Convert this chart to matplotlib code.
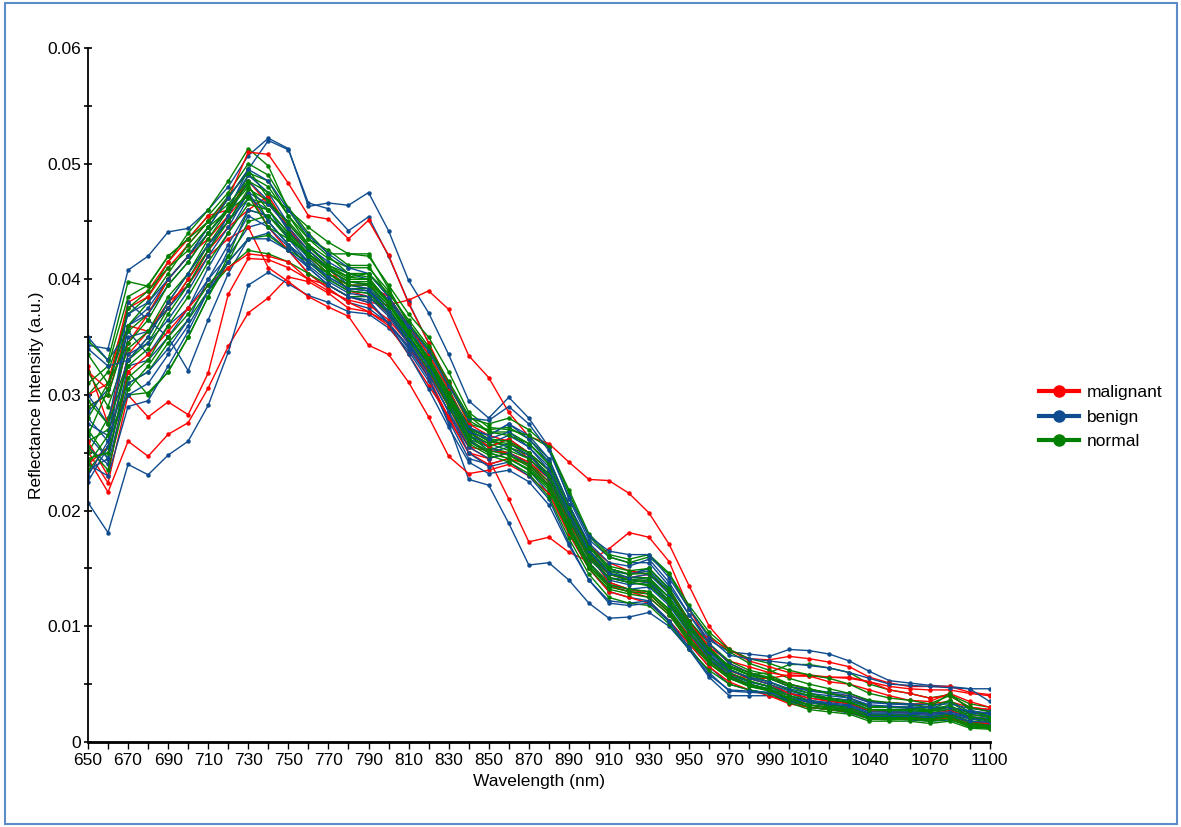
import numpy as np
import matplotlib.pyplot as plt
from matplotlib.lines import Line2D
from matplotlib.patches import Rectangle

plt.rcParams['font.family'] = ['Liberation Sans', 'DejaVu Sans']

# wavelength grid, 10 nm steps
wavelength = np.arange(650, 1101, 10)
tick_labels = {650: '650', 670: '670', 690: '690', 710: '710', 730: '730', 750: '750',
               770: '770', 790: '790', 810: '810', 830: '830', 850: '850', 870: '870',
               890: '890', 910: '910', 930: '930', 950: '950', 970: '970', 990: '990',
               1010: '1010', 1040: '1040', 1070: '1070', 1100: '1100'}

# reflectance spectra, in units of 1e-2
malignant = [
    [2.45, 2.16, 2.60, 2.47, 2.66, 2.76, 3.06, 3.42, 3.71, 3.84, 4.02, 3.98, 3.88, 3.75, 3.72, 3.62,
     3.42, 3.15, 2.80, 2.50, 2.45, 2.10, 1.73, 1.77, 1.64, 1.56, 1.67, 1.81, 1.77, 1.56, 1.15, 0.85,
     0.68, 0.60, 0.55, 0.50, 0.45, 0.42, 0.40, 0.35, 0.34, 0.33, 0.33, 0.35, 0.30, 0.28],
    [2.51, 2.24, 3.00, 2.81, 2.94, 2.83, 3.19, 3.87, 4.18, 4.17, 4.10, 4.00, 3.95, 3.85, 3.80, 3.78,
     3.82, 3.90, 3.74, 3.34, 3.15, 2.85, 2.64, 2.58, 2.42, 2.27, 2.26, 2.15, 1.98, 1.71, 1.35, 1.00,
     0.80, 0.70, 0.65, 0.60, 0.58, 0.56, 0.55, 0.52, 0.48, 0.46, 0.45, 0.45, 0.42, 0.40],
    [3.20, 3.05, 3.75, 3.85, 4.10, 4.30, 4.50, 4.70, 5.10, 5.08, 4.83, 4.55, 4.52, 4.35, 4.51, 4.21,
     3.79, 3.45, 3.10, 2.75, 2.65, 2.60, 2.45, 2.30, 1.95, 1.62, 1.45, 1.40, 1.38, 1.22, 0.98, 0.90,
     0.80, 0.72, 0.71, 0.74, 0.72, 0.69, 0.65, 0.56, 0.51, 0.48, 0.48, 0.48, 0.43, 0.41],
    [3.00, 3.10, 3.80, 3.90, 4.15, 4.35, 4.55, 4.60, 4.85, 4.65, 4.45, 4.25, 4.10, 3.90, 3.85, 3.70,
     3.45, 3.15, 2.80, 2.50, 2.40, 2.45, 2.40, 2.25, 1.90, 1.60, 1.45, 1.42, 1.45, 1.30, 1.05, 0.82,
     0.70, 0.65, 0.60, 0.57, 0.57, 0.56, 0.56, 0.52, 0.45, 0.42, 0.38, 0.40, 0.30, 0.28],
    [2.90, 3.00, 3.60, 3.55, 3.80, 3.95, 4.20, 4.35, 4.45, 4.10, 3.98, 3.85, 3.76, 3.68, 3.43, 3.35,
     3.11, 2.81, 2.47, 2.32, 2.35, 2.40, 2.30, 2.15, 1.80, 1.50, 1.30, 1.25, 1.20, 1.05, 0.85, 0.65,
     0.52, 0.45, 0.40, 0.33, 0.30, 0.28, 0.26, 0.20, 0.20, 0.20, 0.19, 0.21, 0.15, 0.14],
    [3.25, 2.75, 3.45, 3.70, 4.00, 4.20, 4.35, 4.55, 4.75, 4.45, 4.25, 4.05, 3.92, 3.80, 3.72, 3.60,
     3.35, 3.08, 2.82, 2.55, 2.52, 2.50, 2.42, 2.28, 1.95, 1.62, 1.38, 1.32, 1.28, 1.12, 0.92, 0.70,
     0.58, 0.55, 0.55, 0.58, 0.57, 0.52, 0.50, 0.45, 0.40, 0.36, 0.35, 0.42, 0.35, 0.30],
    [2.40, 2.55, 3.35, 3.55, 3.75, 4.00, 4.25, 4.45, 4.60, 4.72, 4.45, 4.20, 4.05, 3.95, 3.95, 3.85,
     3.60, 3.35, 3.05, 2.70, 2.55, 2.62, 2.50, 2.35, 2.00, 1.70, 1.55, 1.48, 1.45, 1.30, 1.05, 0.80,
     0.62, 0.55, 0.50, 0.42, 0.38, 0.35, 0.33, 0.27, 0.26, 0.25, 0.24, 0.27, 0.22, 0.20],
    [2.60, 2.30, 3.20, 3.35, 3.55, 3.75, 3.95, 4.10, 4.22, 4.20, 4.15, 4.00, 3.90, 3.82, 3.78, 3.65,
     3.45, 3.20, 2.90, 2.55, 2.45, 2.50, 2.40, 2.22, 1.85, 1.55, 1.35, 1.30, 1.25, 1.10, 0.88, 0.68,
     0.55, 0.50, 0.45, 0.38, 0.32, 0.30, 0.28, 0.22, 0.22, 0.22, 0.20, 0.23, 0.17, 0.16],
]

benign = [
    [3.43, 3.40, 4.08, 4.20, 4.41, 4.44, 4.60, 4.80, 5.07, 5.22, 5.13, 4.63, 4.66, 4.64, 4.75, 4.42,
     3.99, 3.71, 3.35, 2.95, 2.80, 2.98, 2.80, 2.55, 2.10, 1.75, 1.60, 1.55, 1.55, 1.35, 1.10, 0.88,
     0.78, 0.76, 0.74, 0.80, 0.79, 0.76, 0.70, 0.61, 0.53, 0.51, 0.49, 0.48, 0.46, 0.46],
    [2.80, 2.60, 3.60, 3.75, 4.00, 4.20, 4.40, 4.60, 4.95, 5.20, 5.12, 4.66, 4.61, 4.42, 4.54, 4.20,
     3.80, 3.45, 3.05, 2.70, 2.65, 2.75, 2.65, 2.45, 2.05, 1.70, 1.50, 1.45, 1.50, 1.32, 1.05, 0.80,
     0.65, 0.58, 0.55, 0.48, 0.45, 0.43, 0.42, 0.35, 0.33, 0.32, 0.30, 0.30, 0.26, 0.25],
    [2.07, 1.81, 2.40, 2.31, 2.48, 2.60, 2.91, 3.37, 3.95, 4.06, 3.96, 3.86, 3.80, 3.72, 3.70, 3.58,
     3.38, 3.12, 2.78, 2.45, 2.40, 2.45, 2.35, 2.15, 1.80, 1.50, 1.30, 1.25, 1.22, 1.05, 0.85, 0.65,
     0.50, 0.45, 0.42, 0.35, 0.30, 0.28, 0.27, 0.22, 0.22, 0.22, 0.21, 0.22, 0.18, 0.16],
    [3.50, 3.30, 3.55, 3.35, 3.60, 3.75, 4.00, 4.20, 4.45, 4.50, 4.30, 4.10, 3.95, 3.85, 3.80, 3.62,
     3.40, 3.15, 2.75, 2.27, 2.22, 1.89, 1.53, 1.55, 1.40, 1.20, 1.07, 1.08, 1.12, 1.00, 0.80, 0.56,
     0.40, 0.40, 0.40, 0.35, 0.30, 0.28, 0.25, 0.20, 0.20, 0.19, 0.18, 0.19, 0.15, 0.15],
    [2.65, 2.45, 3.80, 3.65, 3.50, 3.21, 3.65, 4.05, 4.35, 4.40, 4.25, 4.05, 3.92, 3.80, 3.75, 3.62,
     3.42, 3.20, 2.92, 2.62, 2.55, 2.62, 2.50, 2.30, 1.95, 1.62, 1.42, 1.40, 1.42, 1.25, 1.00, 0.75,
     0.60, 0.52, 0.48, 0.42, 0.40, 0.38, 0.36, 0.30, 0.30, 0.29, 0.28, 0.30, 0.25, 0.24],
    [2.35, 2.45, 3.25, 3.30, 3.50, 3.75, 4.10, 4.40, 4.70, 4.60, 4.35, 4.15, 4.00, 3.90, 3.88, 3.70,
     3.45, 3.20, 2.90, 2.60, 2.50, 2.55, 2.45, 2.28, 1.92, 1.60, 1.42, 1.38, 1.40, 1.22, 0.98, 0.76,
     0.60, 0.52, 0.48, 0.42, 0.38, 0.36, 0.34, 0.28, 0.28, 0.28, 0.27, 0.28, 0.24, 0.22],
    [2.75, 2.65, 3.50, 3.55, 3.75, 3.95, 4.25, 4.55, 4.85, 4.68, 4.42, 4.22, 4.08, 3.98, 3.95, 3.75,
     3.50, 3.25, 2.95, 2.65, 2.58, 2.65, 2.55, 2.38, 2.00, 1.66, 1.48, 1.45, 1.48, 1.30, 1.02, 0.80,
     0.63, 0.55, 0.50, 0.44, 0.40, 0.38, 0.36, 0.30, 0.30, 0.30, 0.28, 0.30, 0.26, 0.24],
    [2.40, 2.30, 2.90, 2.95, 3.25, 3.55, 3.90, 4.25, 4.55, 4.45, 4.28, 4.12, 3.98, 3.88, 3.85, 3.68,
     3.44, 3.18, 2.86, 2.55, 2.45, 2.50, 2.40, 2.22, 1.86, 1.55, 1.36, 1.32, 1.34, 1.18, 0.94, 0.72,
     0.56, 0.48, 0.45, 0.38, 0.34, 0.32, 0.30, 0.24, 0.24, 0.24, 0.23, 0.24, 0.20, 0.19],
    [3.00, 2.75, 3.60, 3.70, 3.95, 4.15, 4.40, 4.62, 4.90, 4.75, 4.48, 4.28, 4.15, 4.05, 4.00, 3.82,
     3.58, 3.32, 3.02, 2.72, 2.65, 2.75, 2.62, 2.42, 2.05, 1.72, 1.55, 1.52, 1.58, 1.38, 1.10, 0.85,
     0.68, 0.60, 0.55, 0.48, 0.44, 0.42, 0.40, 0.34, 0.33, 0.33, 0.32, 0.33, 0.29, 0.27],
    [2.55, 2.40, 3.10, 3.20, 3.40, 3.65, 4.00, 4.30, 4.60, 4.55, 4.38, 4.18, 4.02, 3.92, 3.90, 3.72,
     3.48, 3.22, 2.92, 2.60, 2.52, 2.58, 2.48, 2.30, 1.94, 1.60, 1.40, 1.36, 1.38, 1.20, 0.96, 0.74,
     0.58, 0.50, 0.46, 0.40, 0.36, 0.34, 0.32, 0.26, 0.26, 0.26, 0.25, 0.26, 0.22, 0.20],
    [2.25, 2.55, 3.35, 3.45, 3.65, 3.90, 4.20, 4.45, 4.75, 4.65, 4.45, 4.25, 4.10, 3.95, 3.92, 3.72,
     3.46, 3.18, 2.85, 2.50, 2.38, 2.42, 2.30, 2.10, 1.72, 1.40, 1.22, 1.20, 1.22, 1.05, 0.82, 0.60,
     0.44, 0.43, 0.42, 0.36, 0.32, 0.30, 0.28, 0.22, 0.22, 0.22, 0.21, 0.22, 0.18, 0.17],
    [2.85, 3.05, 3.70, 3.80, 4.00, 4.20, 4.45, 4.70, 4.95, 4.85, 4.60, 4.38, 4.22, 4.10, 4.05, 3.85,
     3.60, 3.38, 3.08, 2.80, 2.78, 2.90, 2.75, 2.52, 2.12, 1.78, 1.65, 1.62, 1.62, 1.42, 1.15, 0.90,
     0.75, 0.72, 0.70, 0.68, 0.66, 0.64, 0.60, 0.55, 0.50, 0.49, 0.48, 0.47, 0.46, 0.35],
    [2.30, 2.60, 3.00, 3.10, 3.35, 3.60, 3.90, 4.15, 4.35, 4.35, 4.25, 4.10, 3.95, 3.85, 3.82, 3.62,
     3.35, 3.05, 2.72, 2.42, 2.32, 2.35, 2.25, 2.05, 1.70, 1.40, 1.20, 1.18, 1.20, 1.04, 0.80, 0.58,
     0.45, 0.44, 0.43, 0.38, 0.35, 0.33, 0.31, 0.25, 0.25, 0.25, 0.24, 0.25, 0.21, 0.20],
    [3.40, 3.25, 3.30, 3.50, 3.80, 4.05, 4.30, 4.50, 4.75, 4.50, 4.30, 4.15, 4.02, 3.92, 3.90, 3.72,
     3.50, 3.25, 2.95, 2.68, 2.62, 2.68, 2.55, 2.35, 1.98, 1.65, 1.46, 1.42, 1.45, 1.28, 1.02, 0.78,
     0.62, 0.56, 0.52, 0.46, 0.42, 0.40, 0.38, 0.32, 0.31, 0.30, 0.30, 0.30, 0.27, 0.25],
]

normal = [
    [3.00, 3.20, 3.70, 3.85, 4.15, 4.40, 4.60, 4.85, 5.13, 4.98, 4.60, 4.35, 4.25, 4.12, 4.12, 3.85,
     3.55, 3.30, 3.00, 2.75, 2.70, 2.72, 2.62, 2.45, 2.05, 1.70, 1.50, 1.45, 1.50, 1.32, 1.05, 0.82,
     0.65, 0.58, 0.60, 0.67, 0.67, 0.64, 0.60, 0.50, 0.45, 0.42, 0.38, 0.41, 0.33, 0.30],
    [3.47, 3.30, 3.98, 3.94, 4.20, 4.35, 4.55, 4.75, 5.00, 4.90, 4.62, 4.40, 4.22, 4.22, 4.22, 3.92,
     3.62, 3.40, 3.10, 2.80, 2.75, 2.80, 2.70, 2.55, 2.15, 1.78, 1.60, 1.55, 1.60, 1.45, 1.15, 0.92,
     0.78, 0.68, 0.62, 0.55, 0.50, 0.46, 0.42, 0.36, 0.34, 0.33, 0.30, 0.36, 0.26, 0.22],
    [2.50, 2.80, 3.30, 3.45, 3.75, 4.00, 4.30, 4.55, 4.90, 4.80, 4.55, 4.30, 4.12, 4.05, 4.05, 3.85,
     3.60, 3.35, 3.05, 2.72, 2.62, 2.55, 2.45, 2.28, 1.90, 1.58, 1.42, 1.38, 1.35, 1.20, 0.95, 0.75,
     0.62, 0.55, 0.50, 0.42, 0.36, 0.33, 0.30, 0.24, 0.24, 0.23, 0.22, 0.25, 0.18, 0.15],
    [2.70, 2.45, 3.20, 3.00, 3.20, 3.50, 3.85, 4.20, 4.60, 4.55, 4.35, 4.20, 4.05, 3.95, 3.92, 3.75,
     3.50, 3.25, 2.95, 2.65, 2.55, 2.48, 2.38, 2.20, 1.85, 1.52, 1.35, 1.30, 1.28, 1.12, 0.88, 0.70,
     0.56, 0.50, 0.45, 0.36, 0.30, 0.28, 0.26, 0.20, 0.20, 0.20, 0.18, 0.20, 0.14, 0.12],
    [2.90, 3.00, 3.55, 3.70, 4.00, 4.20, 4.45, 4.70, 4.95, 4.70, 4.42, 4.25, 4.10, 4.00, 4.00, 3.82,
     3.58, 3.32, 3.00, 2.68, 2.55, 2.50, 2.42, 2.25, 1.88, 1.55, 1.38, 1.32, 1.30, 1.15, 0.92, 0.72,
     0.58, 0.52, 0.48, 0.40, 0.34, 0.31, 0.29, 0.22, 0.22, 0.22, 0.20, 0.23, 0.16, 0.14],
    [2.60, 2.70, 3.10, 3.20, 3.45, 3.65, 3.90, 4.10, 4.25, 4.22, 4.15, 4.05, 3.95, 3.85, 3.85, 3.72,
     3.50, 3.28, 3.00, 2.70, 2.60, 2.55, 2.48, 2.32, 1.95, 1.62, 1.45, 1.40, 1.38, 1.22, 0.98, 0.78,
     0.65, 0.58, 0.52, 0.45, 0.40, 0.36, 0.33, 0.27, 0.26, 0.26, 0.25, 0.28, 0.20, 0.17],
    [3.20, 2.90, 3.40, 3.55, 3.85, 4.05, 4.35, 4.60, 4.80, 4.60, 4.40, 4.22, 4.08, 3.98, 3.98, 3.80,
     3.55, 3.30, 3.02, 2.72, 2.62, 2.60, 2.50, 2.35, 1.98, 1.65, 1.48, 1.42, 1.42, 1.25, 1.00, 0.78,
     0.63, 0.56, 0.52, 0.45, 0.40, 0.37, 0.34, 0.28, 0.27, 0.27, 0.26, 0.30, 0.21, 0.18],
    [2.35, 2.55, 3.30, 3.50, 3.80, 4.05, 4.30, 4.50, 4.70, 4.65, 4.50, 4.30, 4.18, 4.10, 4.10, 3.90,
     3.62, 3.38, 3.08, 2.78, 2.68, 2.68, 2.58, 2.42, 2.05, 1.70, 1.52, 1.48, 1.50, 1.33, 1.05, 0.85,
     0.70, 0.62, 0.58, 0.50, 0.46, 0.42, 0.38, 0.31, 0.30, 0.30, 0.28, 0.35, 0.24, 0.21],
    [2.80, 3.10, 3.60, 3.80, 4.05, 4.30, 4.50, 4.72, 4.92, 4.85, 4.55, 4.35, 4.20, 4.05, 4.02, 3.80,
     3.52, 3.25, 2.92, 2.60, 2.50, 2.45, 2.35, 2.18, 1.82, 1.50, 1.32, 1.28, 1.25, 1.10, 0.86, 0.68,
     0.55, 0.48, 0.44, 0.36, 0.30, 0.28, 0.26, 0.20, 0.19, 0.20, 0.18, 0.20, 0.13, 0.12],
    [2.40, 2.65, 3.00, 3.02, 3.20, 3.50, 3.85, 4.15, 4.50, 4.55, 4.38, 4.20, 4.05, 3.92, 3.92, 3.75,
     3.50, 3.28, 2.98, 2.68, 2.58, 2.52, 2.45, 2.30, 1.92, 1.60, 1.42, 1.38, 1.36, 1.20, 0.95, 0.74,
     0.60, 0.53, 0.48, 0.40, 0.35, 0.32, 0.30, 0.23, 0.23, 0.23, 0.21, 0.24, 0.17, 0.14],
    [3.10, 3.25, 3.85, 3.95, 4.20, 4.35, 4.50, 4.65, 4.85, 4.75, 4.60, 4.45, 4.32, 4.22, 4.20, 3.95,
     3.70, 3.50, 3.20, 2.85, 2.72, 2.70, 2.65, 2.55, 2.18, 1.80, 1.62, 1.58, 1.62, 1.46, 1.18, 0.95,
     0.80, 0.72, 0.68, 0.62, 0.58, 0.55, 0.50, 0.42, 0.38, 0.36, 0.33, 0.40, 0.30, 0.26],
    [2.55, 2.35, 3.05, 3.25, 3.50, 3.70, 3.95, 4.15, 4.35, 4.38, 4.25, 4.15, 4.00, 3.90, 3.88, 3.72,
     3.48, 3.22, 2.90, 2.58, 2.48, 2.42, 2.32, 2.12, 1.76, 1.45, 1.25, 1.20, 1.18, 1.02, 0.80, 0.62,
     0.50, 0.45, 0.42, 0.34, 0.28, 0.26, 0.24, 0.18, 0.18, 0.18, 0.16, 0.18, 0.12, 0.11],
    [3.35, 3.10, 3.45, 3.65, 3.95, 4.15, 4.40, 4.62, 4.82, 4.50, 4.30, 4.15, 4.05, 3.95, 3.95, 3.78,
     3.55, 3.32, 3.02, 2.70, 2.60, 2.58, 2.50, 2.35, 1.98, 1.64, 1.46, 1.40, 1.40, 1.25, 1.00, 0.80,
     0.66, 0.60, 0.56, 0.50, 0.46, 0.42, 0.38, 0.30, 0.30, 0.30, 0.30, 0.42, 0.28, 0.22],
    [2.95, 2.75, 3.25, 3.40, 3.70, 3.95, 4.25, 4.50, 4.78, 4.68, 4.48, 4.28, 4.12, 4.02, 4.00, 3.80,
     3.55, 3.30, 2.98, 2.65, 2.52, 2.48, 2.40, 2.22, 1.86, 1.54, 1.36, 1.32, 1.30, 1.14, 0.90, 0.70,
     0.57, 0.50, 0.46, 0.38, 0.32, 0.30, 0.28, 0.21, 0.21, 0.21, 0.20, 0.22, 0.15, 0.13],
    [2.65, 3.05, 3.75, 3.90, 4.10, 4.25, 4.45, 4.60, 4.72, 4.45, 4.35, 4.22, 4.10, 4.02, 4.05, 3.88,
     3.65, 3.42, 3.12, 2.82, 2.68, 2.65, 2.58, 2.40, 2.02, 1.68, 1.50, 1.45, 1.46, 1.30, 1.02, 0.80,
     0.65, 0.58, 0.55, 0.48, 0.42, 0.38, 0.35, 0.28, 0.28, 0.28, 0.27, 0.32, 0.22, 0.19],
    [2.45, 2.50, 3.15, 3.30, 3.60, 3.85, 4.15, 4.40, 4.65, 4.60, 4.40, 4.22, 4.08, 3.98, 3.96, 3.78,
     3.52, 3.28, 2.95, 2.62, 2.50, 2.45, 2.36, 2.20, 1.84, 1.52, 1.34, 1.30, 1.28, 1.12, 0.88, 0.68,
     0.55, 0.49, 0.45, 0.37, 0.32, 0.29, 0.27, 0.20, 0.20, 0.21, 0.19, 0.22, 0.14, 0.12],
]

groups = {'malignant': (malignant, '#FF0000'),
          'benign': (benign, '#0F4C8F'),
          'normal': (normal, '#008000')}

fig = plt.figure(figsize=(11.81, 8.27), dpi=100)
ax = fig.add_axes([0.0745, 0.1028, 0.7635, 0.8392])

# interleave the samples so no single class sits on top
order = []
n_max = max(len(v[0]) for v in groups.values())
for k in range(n_max):
    for name, (curves, color) in groups.items():
        if k < len(curves):
            order.append((curves[k], color))

for curve, color in order:
    ax.plot(wavelength, np.array(curve) / 100, color=color, lw=1.0,
            marker='o', ms=2.2, mec=color, mfc=color)

ax.set_xlim(650, 1100)
ax.set_ylim(0, 0.06)
ax.set_xticks(wavelength)
ax.set_xticklabels([tick_labels.get(w, '') for w in wavelength], fontsize=12.5)
ax.set_yticks([0, 0.01, 0.02, 0.03, 0.04, 0.05, 0.06])
ax.set_yticklabels(['0', '0.01', '0.02', '0.03', '0.04', '0.05', '0.06'], fontsize=12.5)
ax.set_yticks(np.arange(0.005, 0.06, 0.01), minor=True)
ax.tick_params(axis='x', direction='out', length=5, width=1, pad=3)
ax.tick_params(axis='y', which='both', direction='inout', length=6, width=1.2, pad=2)

for side in ('top', 'right'):
    ax.spines[side].set_visible(False)
ax.spines['left'].set_linewidth(1.3)
ax.spines['bottom'].set_linewidth(2)

ax.set_xlabel('Wavelength (nm)', fontsize=12.5, labelpad=4)
ax.set_ylabel('Reflectance Intensity (a.u.)', fontsize=12.5, labelpad=2)

handles = [Line2D([], [], color=c, lw=3, marker='o', ms=8) for _, c in groups.values()]
fig.legend(handles, list(groups.keys()), loc='center left',
           bbox_to_anchor=(1030 / 1181, (827 - 417) / 827), frameon=False,
           fontsize=12.5, handlelength=2.3, handletextpad=0.5, labelspacing=0.55,
           borderpad=0)

fig.patches.append(Rectangle((0.004, 0.004), 0.993, 0.992, transform=fig.transFigure,
                             fill=False, edgecolor='#5B8BC9', lw=1.5))

fig.savefig('out.png', dpi=100)
